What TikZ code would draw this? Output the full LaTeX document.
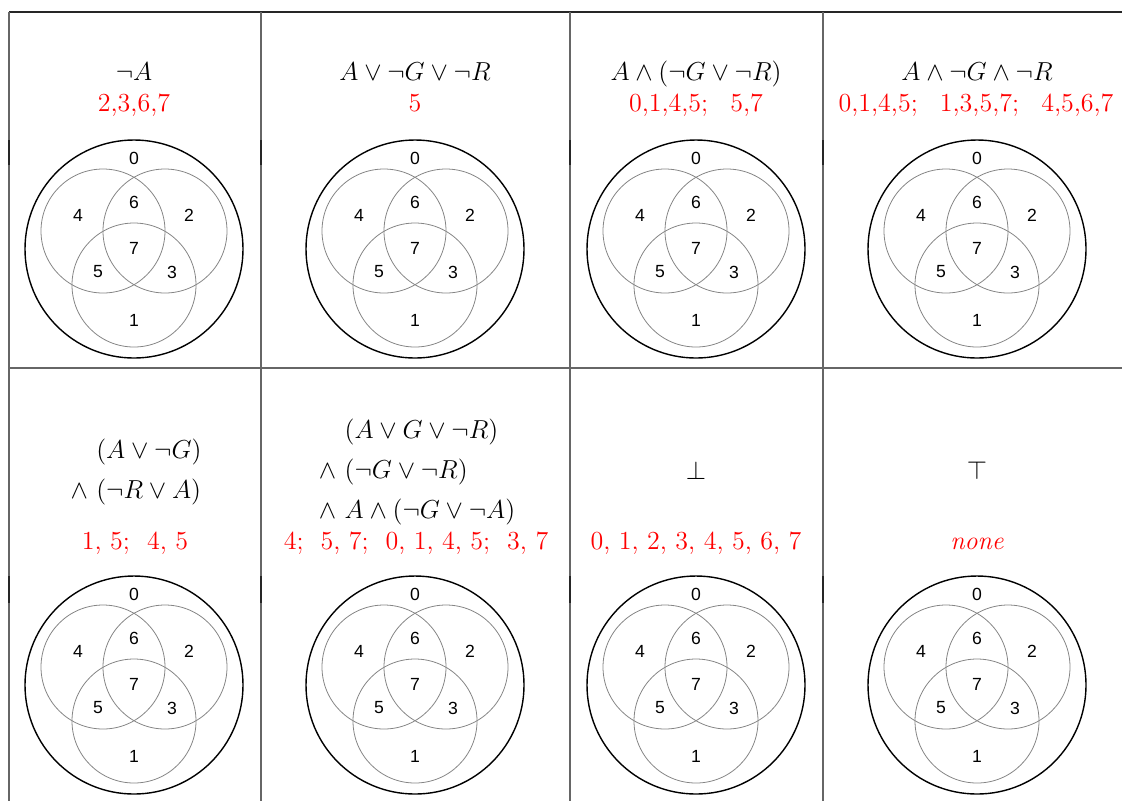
\RequirePackage{fix-cm}
\documentclass[tikz,border=0pt]{standalone}
\usepackage{amsmath}
\usepackage{fontspec}
\newfontfamily\vennfont{Liberation Sans}
\usepackage{xcolor}
\definecolor{gridGray}{gray}{0.40}
\definecolor{ringGray}{gray}{0.52}
\definecolor{ansRed}{HTML}{FF0000}
\usepackage{tikz}
\setlength{\jot}{4.5pt}

\tikzset{
  gridline/.style={gridGray, line width=0.7pt},
  edgemark/.style={black!85, line width=1.1pt},
  outerring/.style={black, line width=0.7pt},
  innerring/.style={ringGray, line width=0.4pt},
  region/.style={inner sep=0pt, font=\vennfont\fontsize{8.8}{10}\selectfont},
  formula/.style={anchor=base, inner sep=0pt, font=\fontsize{13}{15.6}\selectfont},
  answer/.style={formula, text=ansRed}
}

% one venn picture: universe ring, three sets, eight region numbers
\newcommand{\venn}[1]{%
  \draw[outerring] (0,0) circle (109);
  \draw[innerring] (-31,18) circle (62);
  \draw[innerring] (31,18) circle (62);
  \draw[innerring] (0,-36) circle (62);
  \foreach \n/\px/\py in {0/0/91,6/0/47,4/-56/34,2/55/34,7/0/1,5/-36/-23,3/38/-23,1/0/-71}
    \node[region] (#1-\n) at (\px,\py) {\n};
}
\newcommand{\gap}{\hspace{0.85em}}

\begin{document}
\begin{tikzpicture}[x=0.5pt, y=0.5pt]
  \useasboundingbox (0,0) rectangle (1122,-800);
  % ---- table rules ----
  \draw[gridline, black!85] (9,-12) -- (1140,-12);
  \draw[gridline] (9,-368) -- (1140,-368);
  \foreach \x in {9,261,570,823} {
    \draw[gridline] (\x,-12) -- (\x,-810);
    \draw[edgemark] (\x,-140) -- (\x,-165);
    \draw[edgemark] (\x,-576) -- (\x,-603);
  }
  % ---- the eight venn pictures ----
  \foreach \cx [count=\c] in {134,415,696,977}
    \foreach \cy [count=\r] in {-249,-685} {
      \begin{scope}[shift={(\cx,\cy)}]
        \venn{v\r\c}
      \end{scope}
    }
  % ---- top row ----
  \node[formula] (f1) at (134,-80) {$\neg A$};
  \node[answer] (a1) at (134,-111) {2,3,6,7};
  \node[formula] (f2) at (415,-80) {$A\vee\neg G\vee\neg R$};
  \node[answer] (a2) at (415,-111) {5};
  \node[formula] (f3) at (696,-80) {$A\wedge(\neg G\vee\neg R)$};
  \node[answer] (a3) at (696,-111) {0,1,4,5;\gap 5,7};
  \node[formula] (f4) at (977,-80) {$A\wedge\neg G\wedge\neg R$};
  \node[answer] (a4) at (976,-111) {0,1,4,5;\gap 1,3,5,7;\gap 4,5,6,7};
  % ---- bottom row ----
  \node[formula, anchor=center] (f5) at (136,-472)
    {$\begin{aligned} &(A\vee\neg G)\\ \wedge\ &(\neg R\vee A)\end{aligned}$};
  \node[answer] (a5) at (135,-549) {1, 5;\ \ 4, 5};
  \node[formula, anchor=center] (f6) at (417,-472)
    {$\begin{aligned} &(A\vee G\vee\neg R)\\ \wedge\ &(\neg G\vee\neg R)\\
      \wedge\ &A\wedge(\neg G\vee\neg A)\end{aligned}$};
  \node[answer] (a6) at (416,-549) {4;\ \ 5, 7;\ \ 0, 1, 4, 5;\ \ 3, 7};
  \node[formula, anchor=center] (f7) at (696,-470) {$\bot$};
  \node[answer] (a7) at (696,-549) {0, 1, 2, 3, 4, 5, 6, 7};
  \node[formula, anchor=center] (f8) at (977,-470) {$\top$};
  \node[answer] (a8) at (977,-549) {\textit{none}};
\end{tikzpicture}
\end{document}
